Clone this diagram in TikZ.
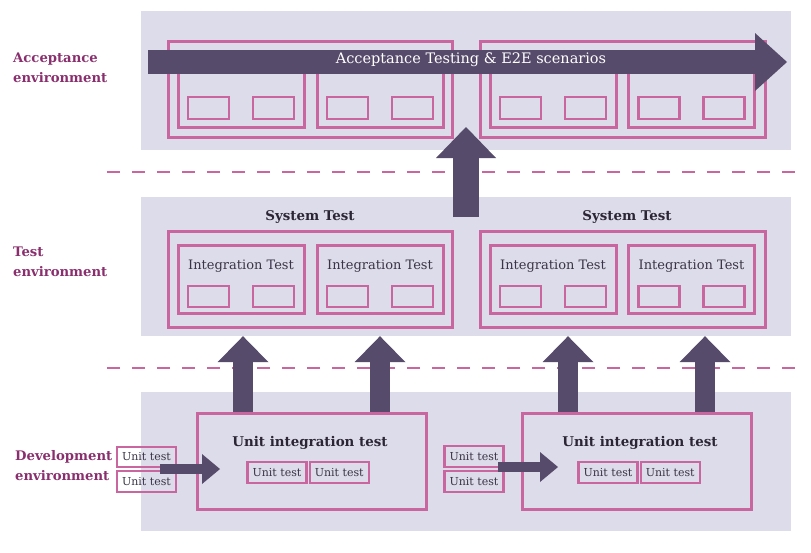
\documentclass[tikz,border=0pt]{standalone}
\usepackage{fontspec}
\setmainfont{DejaVu Serif}
\usepackage{tikz}
\usetikzlibrary{arrows.meta,positioning,calc}
\definecolor{Lav}{HTML}{DDDCEA}
\definecolor{Rose}{HTML}{C9669F}
\definecolor{Grape}{HTML}{574B6B}
\definecolor{Plum}{HTML}{8A2F6E}
\definecolor{Ink}{HTML}{3A3446}
\definecolor{InkD}{HTML}{2B2535}

\begin{document}
\begin{tikzpicture}[x=1pt,y=-1pt,
    band/.style={fill=Lav,inner sep=0pt,minimum width=650pt,minimum height=139pt},
    sysbox/.style={draw=Rose,line width=3pt,inner sep=0pt,minimum width=284pt,minimum height=96pt},
    cell/.style={draw=Rose,line width=3pt,inner sep=0pt,minimum width=126pt,minimum height=#1},
    cell/.default=72pt,
    slot/.style={draw=Rose,line width=2.4pt,inner sep=0pt,minimum width=41pt,minimum height=22pt},
    utbox/.style={draw=Rose,line width=2.2pt,inner sep=0pt,minimum width=59pt,minimum height=21pt,
      text=Ink,font=\fontsize{11}{12}\selectfont},
    env/.style={anchor=west,align=left,inner sep=0pt,text=Plum,
      font=\bfseries\fontsize{13.2}{20}\selectfont},
    ttl/.style={text=InkD,font=\bfseries\fontsize{13.4}{15}\selectfont},
    lbl/.style={text=Ink,font=\fontsize{13}{15}\selectfont},
    dashsep/.style={Rose,line width=2pt,dash pattern=on 12.5pt off 12.5pt},
    bigarr/.style n args={3}{Grape,line width=#1,
      -{Triangle[length=#3,width=#2,line width=0pt]}}]
  \useasboundingbox (0,0) rectangle (811,552);

  % environment bands
  \node[band] (Aband) at (466,80.5) {};
  \node[band] (Tband) at (466,266.5) {};
  \node[band] (Dband) at (466,461.5) {};

  \node[env] (Aenv) at (13,68) {Acceptance\\environment};
  \node[env] (Tenv) at (13,262) {Test\\environment};
  \node[env] (Denv) at (15,465.5) {Development\\environment};

  \draw[dashsep] (107,172) -- (800,172);
  \draw[dashsep] (107,368) -- (800,368);

  % system boxes, acceptance and test rows
  \node[sysbox] (AS1) at (310,89) {};
  \node[sysbox,minimum width=285pt] (AS2) at (622.5,89) {};
  \node[sysbox] (TS1) at (310,279) {};
  \node[sysbox,minimum width=285pt] (TS2) at (622.5,279) {};
  \node[ttl] (TS1t) at (310,217) {System Test};
  \node[ttl] (TS2t) at (627,217) {System Test};

  \foreach \c/\x in {1/241,2/380,3/553,4/691.5}{
    \node[cell] (AI\c) at (\x,91) {};
    \node[slot] (AI\c a) at (\x-32.5,108) {};
    \node[slot] (AI\c b) at (\x+32.5,108) {};
    \node[cell=68pt] (TI\c) at (\x,279) {};
    \node[lbl] (TI\c t) at (\x,266) {Integration Test};
    \node[slot,minimum height=21pt] (TI\c a) at (\x-32.5,296.5) {};
    \node[slot,minimum height=21pt] (TI\c b) at (\x+32.5,296.5) {};
  }

  % development row
  \node[sysbox,minimum width=229pt] (UI1) at (311.5,461) {};
  \node[sysbox,minimum width=229pt] (UI2) at (636.5,461) {};
  \node[ttl] (UI1t) at (310,443) {Unit integration test};
  \node[ttl] (UI2t) at (640,443) {Unit integration test};
  \node[utbox] (UI1a) at (277,472.5) {Unit test};
  \node[utbox,right=1pt of UI1a] (UI1b) {Unit test};
  \node[utbox] (UI2a) at (608,472.5) {Unit test};
  \node[utbox,right=1pt of UI2a] (UI2b) {Unit test};

  \node[utbox,minimum height=20pt] (UL1) at (146.5,457) {Unit test};
  \node[utbox,below=2pt of UL1] (UL2) {Unit test};
  \node[utbox] (UR1) at (474,456.5) {Unit test};
  \node[utbox,below=2pt of UR1] (UR2) {Unit test};

  % block arrows
  \coordinate (D1s) at (160,469);
  \coordinate (D1e) at (220,469);
  \coordinate (D2s) at (498,467);
  \coordinate (D2e) at (558,467);
  \draw[bigarr={10pt}{30pt}{18pt}] (D1s) -- (D1e);
  \draw[bigarr={10pt}{30pt}{18pt}] (D2s) -- (D2e);

  \draw[bigarr={20pt}{51pt}{26pt}] ([xshift=-68.5pt]UI1.north) -- ([xshift=-68.5pt]UI1.north |- Tband.south);
  \draw[bigarr={20pt}{51pt}{26pt}] ([xshift=68.5pt]UI1.north) -- ([xshift=68.5pt]UI1.north |- Tband.south);
  \draw[bigarr={20pt}{51pt}{26pt}] ([xshift=-68.5pt]UI2.north) -- ([xshift=-68.5pt]UI2.north |- Tband.south);
  \draw[bigarr={20pt}{51pt}{26pt}] ([xshift=68.5pt]UI2.north) -- ([xshift=68.5pt]UI2.north |- Tband.south);

  \coordinate (Umid) at ($(TS1.east)!.5!(TS2.west)$);
  \coordinate (Ubot) at (Umid |- TS1t);
  \coordinate (Utop) at ($(Ubot)+(0,-90)$);
  \draw[bigarr={26pt}{60pt}{31pt}] (Ubot) -- (Utop);

  \coordinate (Es) at (148,62);
  \coordinate (Ee) at (787,62);
  \draw[bigarr={24pt}{58pt}{32pt}] (Es) -- (Ee);
  \node[text=white,font=\fontsize{14.5}{16}\selectfont] (Etxt) at (471,60)
    {Acceptance Testing \& E2E scenarios};
\end{tikzpicture}
\end{document}
